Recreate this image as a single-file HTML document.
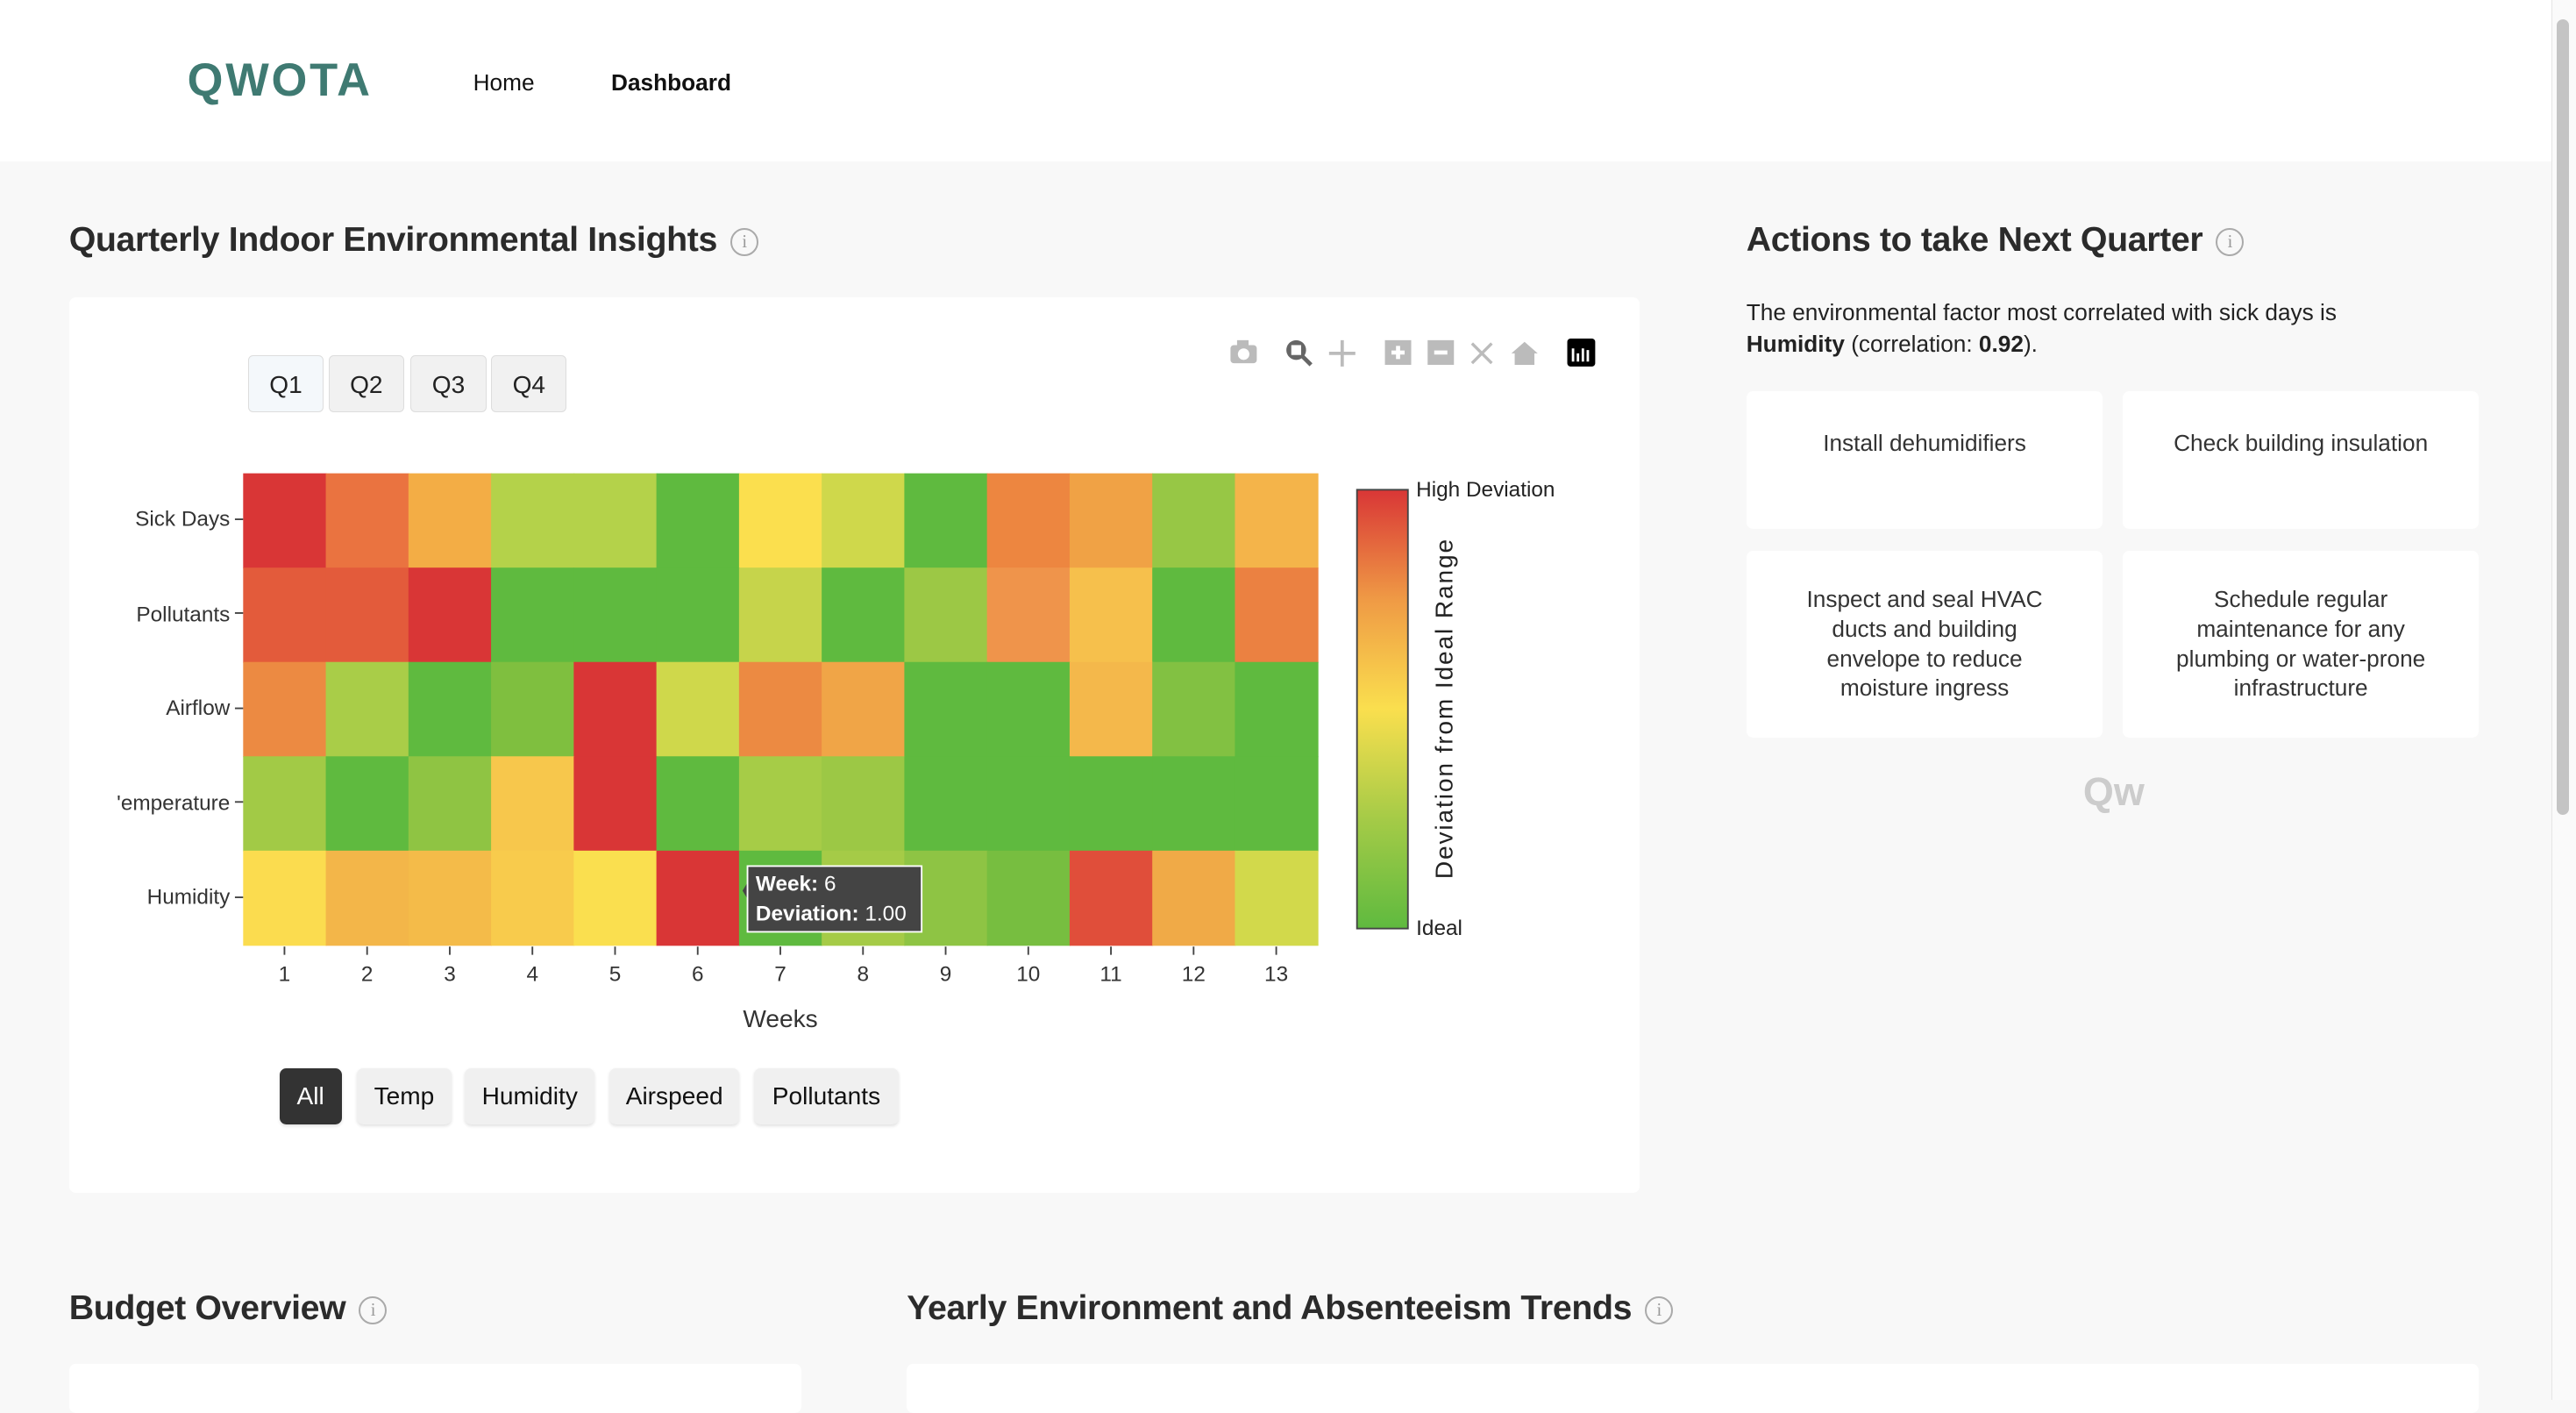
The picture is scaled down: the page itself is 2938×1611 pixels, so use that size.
<!DOCTYPE html>
<html><head><meta charset="utf-8"><style>
html,body{margin:0;padding:0;}
body{width:1568px;height:852px;zoom:1.87372;overflow:hidden;background:#f8f8f8;font-family:"Liberation Sans",sans-serif;position:relative;}
.a{position:absolute;}
.hdr{left:0;top:0;width:1553px;height:98px;background:#fff;}
.t{font-size:21px;color:#2b2b2b;font-weight:bold;letter-spacing:-0.2px}
.info{display:inline-block;width:15px;height:15px;border:1.3px solid #aaa;border-radius:50%;font-size:11px;color:#999;text-align:center;line-height:15px;font-weight:normal;vertical-align:2px;margin-left:8px;font-family:"Liberation Serif",serif}
.card{background:#fff;border-radius:4px;}
.q{top:216px;width:46px;height:35px;background:#f1f1f1;border:1px solid #ddd;border-radius:3px;font-size:15px;text-align:center;line-height:35px;color:#222;box-sizing:border-box}
.b{top:650px;height:34px;background:#f0f0f0;border-radius:4px;font-size:15px;text-align:center;line-height:34px;color:#111;box-shadow:0 1px 2px rgba(0,0,0,.12)}
.ac{background:#fff;border-radius:4px;font-size:14px;color:#333;text-align:center;line-height:18px;box-sizing:border-box;}
</style></head><body>
<div class="a hdr"></div>
<div class="a" style="left:114px;top:33px;font-size:28px;color:#3f7a72;letter-spacing:1.5px;font-weight:bold;-webkit-text-stroke:0">QWOTA</div>
<div class="a" style="left:288px;top:42px;font-size:14px;color:#111">Home</div>
<div class="a" style="left:372px;top:42px;font-size:14px;color:#111;font-weight:bold">Dashboard</div>
<div class="a" style="left:1553px;top:0;width:15px;height:852px;background:#fafafa;border-left:1px solid #e5e5e5"></div>
<div class="a" style="left:1556px;top:12px;width:8px;height:484px;background:#c4c4c4;border-radius:4px"></div>

<div class="a t" style="left:42px;top:134px">Quarterly Indoor Environmental Insights<span class="info">i</span></div>
<div class="a card" style="left:42px;top:181px;width:956px;height:545px"></div>
<div class="a q" style="left:151px;background:#f4f8fb">Q1</div>
<div class="a q" style="left:200px">Q2</div>
<div class="a q" style="left:250px">Q3</div>
<div class="a q" style="left:299px">Q4</div>

<svg class="a" style="left:0;top:0" width="1568" height="852" viewBox="0 0 1568 852">
<g id="cells"></g>
<g fill="#bbb">
<rect x="749" y="210" width="16" height="11" rx="2"/><circle cx="757" cy="215.5" r="3.5" fill="#fff"/><rect x="753" y="207" width="7" height="4"/>
<circle cx="789" cy="213" r="6" fill="#666"/><rect x="786" y="210" width="6" height="6" fill="#fff"/><line x1="793" y1="217" x2="798" y2="222" stroke="#666" stroke-width="2.5"/>
<path d="M817 207v16M809 215h16" stroke="#bbb" stroke-width="2"/>
<rect x="843" y="207" width="16" height="15"/><path d="M847 214.5h8M851 210.5v8" stroke="#fff" stroke-width="2.5"/>
<rect x="869" y="207" width="16" height="15"/><path d="M873 214.5h8" stroke="#fff" stroke-width="2.5"/>
<path d="M896 209l12 12M908 209l-12 12" stroke="#bbb" stroke-width="1.8"/>
<path d="M920 215l8-7 8 7h-2v7h-12v-7z"/>
<rect x="954" y="206" width="17" height="17" rx="2" fill="#000"/>
<path d="M957.5 212v8M960.5 215v5M963.5 212v8M966.5 213v7" stroke="#fff" stroke-width="1.5"/>
</g>
<g font-size="13" fill="#333" text-anchor="end">
<text x="140" y="320">Sick Days</text><text x="140" y="378">Pollutants</text><text x="140" y="435">Airflow</text><text x="140" y="493">'emperature</text><text x="140" y="550">Humidity</text>
</g>
<g stroke="#444"><path d="M143 316h5M143 373h5M143 431h5M143 488h5M143 546h5"/></g>
<g id="xt" font-size="13" fill="#333" text-anchor="middle"></g>
<text x="475" y="625" font-size="15" fill="#333" text-anchor="middle">Weeks</text>
<defs><linearGradient id="cb" x1="0" y1="1" x2="0" y2="0">
<stop offset="0" stop-color="#5fba3f"/><stop offset="0.25" stop-color="#a5cb47"/><stop offset="0.5" stop-color="#fadf4e"/><stop offset="0.75" stop-color="#ef9a45"/><stop offset="1" stop-color="#d93636"/></linearGradient></defs>
<rect x="826" y="298" width="31" height="267" fill="url(#cb)" stroke="#444" stroke-width="1"/>
<text x="862" y="302" font-size="13" fill="#222">High Deviation</text>
<text x="862" y="569" font-size="13" fill="#222">Ideal</text>
<text transform="translate(884,431) rotate(-90)" font-size="15" fill="#222" text-anchor="middle" letter-spacing="1">Deviation from Ideal Range</text>
<path d="M455 537l-3 5 3 5" fill="#444"/>
<rect x="455" y="527" width="106" height="40" fill="#444" stroke="#fff"/>
<text x="460" y="542" font-size="13" fill="#fff" font-weight="bold">Week: <tspan font-weight="normal">6</tspan></text>
<text x="460" y="560" font-size="13" fill="#fff" font-weight="bold">Deviation: <tspan font-weight="normal">1.00</tspan></text>
</svg>

<div class="a b" style="left:170px;width:38px;background:#333;color:#fff">All</div>
<div class="a b" style="left:217px;width:58px">Temp</div>
<div class="a b" style="left:283px;width:79px">Humidity</div>
<div class="a b" style="left:371px;width:79px">Airspeed</div>
<div class="a b" style="left:459px;width:88px">Pollutants</div>

<div class="a t" style="left:1063px;top:134px">Actions to take Next Quarter<span class="info">i</span></div>
<div class="a" style="left:1063px;top:181px;font-size:14px;color:#222;line-height:19px;width:420px">The environmental factor most correlated with sick days is <b>Humidity</b> (correlation: <b>0.92</b>).</div>
<div class="a ac" style="left:1063px;top:238px;width:217px;height:84px;padding-top:23px">Install dehumidifiers</div>
<div class="a ac" style="left:1292px;top:238px;width:217px;height:84px;padding-top:23px">Check building insulation</div>
<div class="a ac" style="left:1063px;top:335px;width:217px;height:114px;padding:21px 27px 0">Inspect and seal HVAC ducts and building envelope to reduce moisture ingress</div>
<div class="a ac" style="left:1292px;top:335px;width:217px;height:114px;padding:21px 18px 0">Schedule regular maintenance for any plumbing or water-prone infrastructure</div>
<div class="a" style="left:1268px;top:468px;font-size:24px;color:#ccc;font-weight:bold">Qw</div>

<div class="a t" style="left:42px;top:784px">Budget Overview<span class="info">i</span></div>
<div class="a t" style="left:552px;top:784px">Yearly Environment and Absenteeism Trends<span class="info">i</span></div>
<div class="a card" style="left:42px;top:830px;width:446px;height:30px"></div>
<div class="a card" style="left:552px;top:830px;width:957px;height:30px"></div>

<script>
var d=[
["d93636","ea7340","f3ad45","b4d24a","b4d24a","5fba3f","fbdf4e","cfd84b","5fba3f","ed8640","f0a245","97c745","f4b44a"],
["e35b3b","e35b3b","d93636","5fba3f","5fba3f","5fba3f","c6d44b","5fba3f","9cc845","ef944b","f6c04c","5fba3f","eb8141"],
["ec8a42","a9cd48","5fba3f","7fbf3f","d93636","cfd84b","ec8a42","f0a547","5fba3f","5fba3f","f4b84b","82c142","5fba3f"],
["a2ca46","5fba3f","8fc443","f7c74c","d93636","5fba3f","a6cc47","9cc845","5fba3f","5fba3f","5fba3f","5fba3f","5fba3f"],
["fbdc4f","f3b649","f4bb49","f8cb4c","fadf4f","d93636","5fba3f","a5cb47","8ec444","77be40","e04e3a","f0aa47","d2d94b"]];
var g=document.getElementById('cells'),h='',w=654/13,r=287/5;
for(var i=0;i<5;i++)for(var j=0;j<13;j++)h+='<rect x="'+(148+j*w)+'" y="'+(288+i*r)+'" width="'+(w+0.5)+'" height="'+(r+0.5)+'" fill="#'+d[i][j]+'"/>';
g.innerHTML=h;var x='';
for(var j=0;j<13;j++){var cx=148+w*(j+.5);x+='<line x1="'+cx+'" x2="'+cx+'" y1="576" y2="581" stroke="#444"/><text x="'+cx+'" y="597">'+(j+1)+'</text>';}
document.getElementById('xt').innerHTML=x;
</script>
</body></html>
